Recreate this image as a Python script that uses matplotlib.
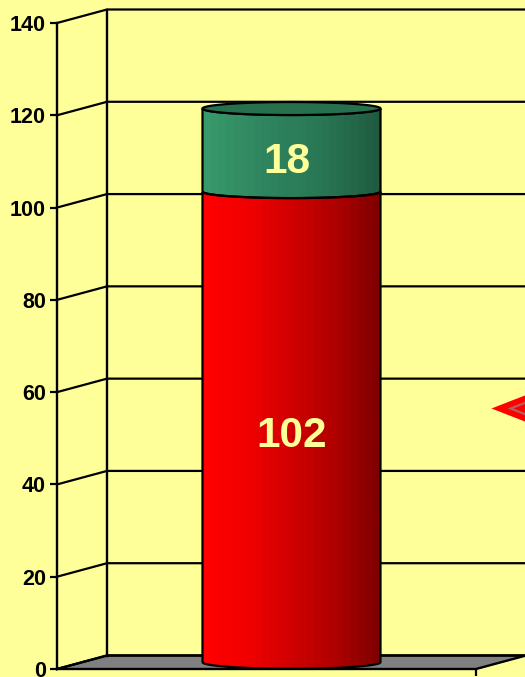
import numpy as np
import matplotlib as mpl
import matplotlib.pyplot as plt
from matplotlib.colors import LinearSegmentedColormap
from matplotlib.path import Path
from matplotlib.patches import PathPatch

mpl.rcParams.update({
    "font.family": ["Liberation Sans", "DejaVu Sans"],
    "font.weight": "bold",
})

categories = [0]
lower_values = [102]
upper_values = [18]
marker_x = [0.68]
marker_y = [56.5]
yticks = [0, 20, 40, 60, 80, 100, 120, 140]

bg = "#ffff99"
W, H = 525, 677
fig = plt.figure(figsize=(W / 100, H / 100), dpi=100, facecolor=bg)
ax = fig.add_axes([57 / W, (H - 669) / H, 419 / W, 646 / H], facecolor="none")
ax.set_xlim(-0.5, 0.5)
ax.set_ylim(0, 140)

# depth of the fake 3d box, in data units
dx = 50 / 419
dy = 13.5 * 140 / 646
# cylinder half sizes
rx = 89 / 419
ry = 6.5 * 140 / 646

# floor
ax.fill([-0.5, -0.5 + dx, 0.5 + dx, 0.5], [0, dy, dy, 0], color="#808080", zorder=1, clip_on=False)
ax.plot([-0.5, -0.5 + dx, 0.5 + dx, 0.5, -0.5], [0, dy, dy, 0, 0], color="black", lw=1.7, zorder=2, clip_on=False)

# walls and grid
for t in yticks:
    ax.plot([-0.5, -0.5 + dx, 0.5 + dx], [t, t + dy, t + dy], color="black", lw=1.6, zorder=2, clip_on=False)
ax.plot([-0.5 + dx, -0.5 + dx], [dy, 140 + dy], color="black", lw=1.7, zorder=2, clip_on=False)


def side_path(xc, y0, y1):
    # front of a cylinder piece, from the left edge round the lower arc and back over the top
    a = np.linspace(np.pi, 2 * np.pi, 40)
    low = np.column_stack([xc + rx * np.cos(a), y0 + dy / 2 + ry * np.sin(a)])
    up = np.column_stack([xc + rx * np.cos(a[::-1]), y1 + dy / 2 + ry * np.sin(a[::-1])])
    return Path(np.vstack([low, up, low[:1]]))


def cylinder_piece(xc, y0, y1, colors):
    cmap = LinearSegmentedColormap.from_list("c", colors, N=24)
    grad = np.linspace(0, 1, 256).reshape(1, -1)
    im = ax.imshow(grad, cmap=cmap, aspect="auto", zorder=3,
                   extent=[xc - rx, xc + rx, y0 - 5, y1 + dy + 5])
    patch = PathPatch(side_path(xc, y0, y1), transform=ax.transData, facecolor="none", edgecolor="black", lw=1.6, zorder=4, clip_on=False)
    ax.add_patch(patch)
    im.set_clip_path(patch)
    return patch


for x, low, up in zip(categories, lower_values, upper_values):
    xc = x + dx / 2
    cylinder_piece(xc, 0, low, ["#ff0000", "#f00000", "#d00000", "#b00000", "#800000"])
    cylinder_piece(xc, low, low + up, ["#38996b", "#2f8560", "#2a7755", "#1f5c40"])
    a = np.linspace(0, 2 * np.pi, 80)
    ax.fill(xc + rx * np.cos(a), low + up + dy / 2 + ry * np.sin(a), facecolor="#26704e", edgecolor="black", lw=1.6, zorder=5, clip_on=False)
    ax.annotate(str(low), (xc, low / 2), xytext=(0, -1.5), textcoords="offset points", color=bg, fontsize=30.5, ha="center", va="center", zorder=6)
    ax.annotate(str(up), (xc, low + up / 2), xytext=(-3, -3.5), textcoords="offset points", color=bg, fontsize=30.5, ha="center", va="center", zorder=6)

# line series marker, mostly off the right edge
diamond = [(-1, 0), (0, 0.39), (1, 0), (0, -0.39), (-1, 0)]
ax.scatter(marker_x, marker_y, marker=diamond, s=7465, color="#ff0000", linewidths=0, zorder=3, clip_on=False)
ax.scatter(marker_x, marker_y, marker=diamond, s=4014, color="#b06060", linewidths=0, zorder=3, clip_on=False)
ax.scatter(marker_x, marker_y, marker=diamond, s=2994, color="#ff0000", linewidths=0, zorder=3, clip_on=False)

for s in ["top", "right", "bottom"]:
    ax.spines[s].set_visible(False)
ax.spines["left"].set_linewidth(1.7)
ax.spines["left"].set_zorder(2)
ax.set_yticks(yticks)
ax.set_xticks([0.5])
ax.set_xticklabels([""])
ax.tick_params(axis="y", length=5, width=1.6, labelsize=15.5, pad=3)
ax.tick_params(axis="x", length=5, width=1.6)

fig.savefig("out.png", dpi=100, facecolor=bg)
plt.close()
